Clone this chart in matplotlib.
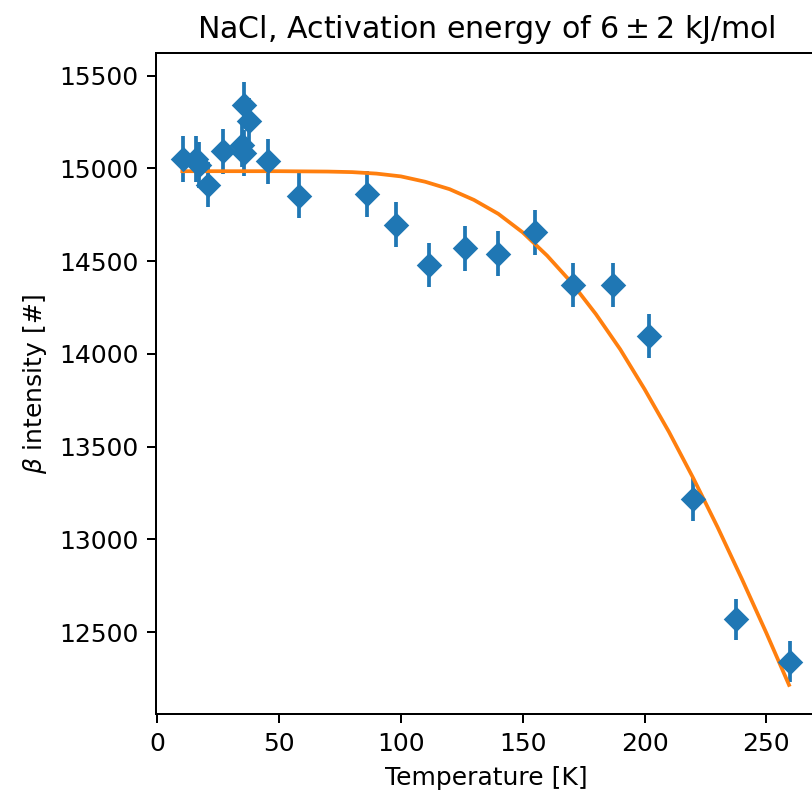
import numpy as np
import matplotlib
matplotlib.use("Agg")
import matplotlib.pyplot as plt

# measured beta intensity vs temperature
temp = [10.7, 16.0, 17.1, 20.9, 26.8, 35.0, 35.6, 35.7, 37.7, 45.3, 58.1,
        86.3, 98.2, 111.6, 126.3, 139.9, 155.0, 170.7, 187.1, 201.9,
        219.9, 237.7, 259.6]
counts = [15051, 15050, 15020, 14912, 15092, 15128, 15083, 15344, 15254,
          15038, 14853, 14862, 14696, 14480, 14570, 14540, 14655, 14372,
          14372, 14097, 13216, 12568, 12340]
err = [123, 123, 123, 122, 123, 123, 123, 124, 124, 123, 122,
       122, 121, 120, 121, 121, 121, 120, 120, 119, 115, 112, 111]

# fitted curve
fit_t = [10.3, 50, 70, 80, 90, 100, 110, 120, 130, 140, 150, 160, 170,
         180, 190, 200, 210, 220, 230, 240, 250, 259.3]
fit_y = [14985, 14985, 14983, 14980, 14972, 14957, 14928, 14888, 14830,
         14755, 14655, 14530, 14385, 14215, 14025, 13810, 13580, 13330,
         13065, 12785, 12495, 12215]

fig = plt.figure(figsize=(812/180, 791/180), dpi=180)
ax = fig.add_axes([0.1921, 0.0973, 0.8147, 0.8361])

ax.errorbar(temp, counts, yerr=err, fmt='D', color='C0', markersize=6.5)
ax.plot(fit_t, fit_y, color='C1')

ax.set_xlim(-0.5, 271)
ax.set_ylim(12058, 15624)
ax.set_xlabel("Temperature [K]")
ax.set_ylabel(r"$\beta$ intensity [#]")
ax.set_title(r"NaCl, Activation energy of $6 \pm 2$ kJ/mol")

fig.savefig("out.png", dpi=180)
